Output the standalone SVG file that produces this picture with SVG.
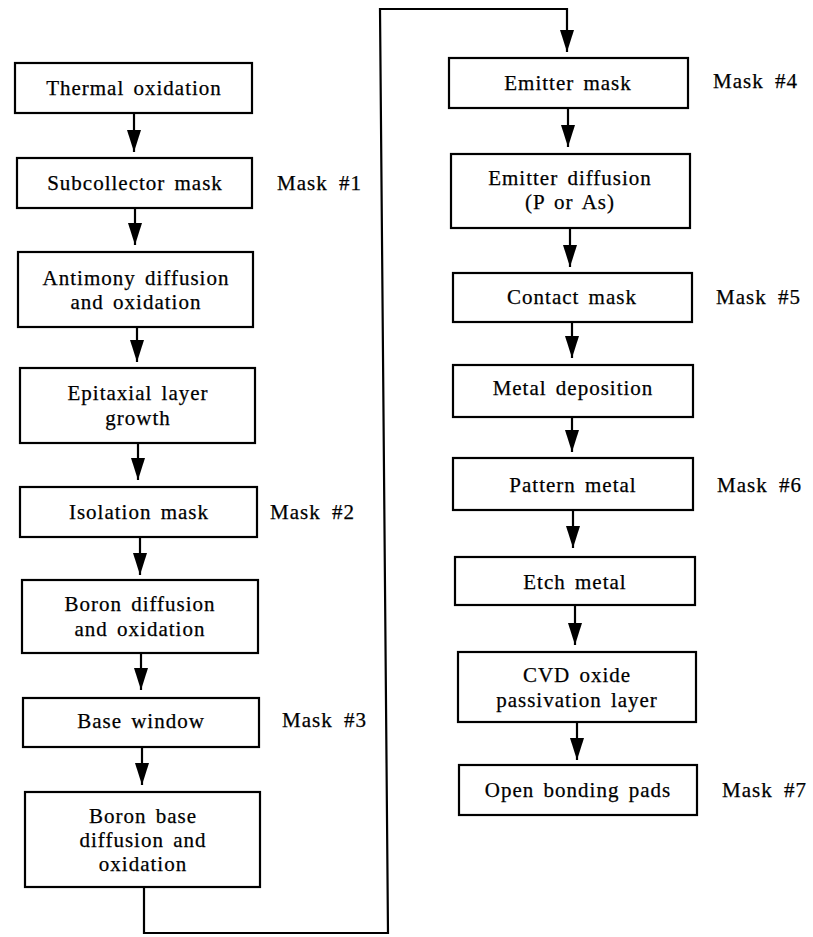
<svg xmlns="http://www.w3.org/2000/svg" width="813" height="937" viewBox="0 0 813 937">
<defs>
<style>
.box{fill:#fff;stroke:#000;stroke-width:2.2}
.t{font-family:"Liberation Serif","Times New Roman",serif;font-size:21px;letter-spacing:1px;word-spacing:3px;fill:#000;stroke:#000;stroke-width:0.25;text-anchor:middle}
.m{font-family:"Liberation Serif","Times New Roman",serif;font-size:21px;letter-spacing:1px;word-spacing:5px;fill:#000;stroke:#000;stroke-width:0.25}
.c{fill:none;stroke:#000;stroke-width:2.2;marker-end:url(#ah)}
</style>
<marker id="ah" viewBox="0 0 22 14" refX="22" refY="7" markerWidth="22" markerHeight="14" markerUnits="userSpaceOnUse" orient="auto">
<path d="M0,0 L22,7 L0,14 z" fill="#000"/>
</marker>
</defs>
<rect width="813" height="937" fill="#fff"/>

<g id="connectors">
<line class="c" x1="134" y1="113" x2="134" y2="152"/>
<line class="c" x1="135" y1="208" x2="135" y2="245"/>
<line class="c" x1="137" y1="327" x2="137" y2="362"/>
<line class="c" x1="138" y1="443" x2="138" y2="480"/>
<line class="c" x1="140" y1="537" x2="140" y2="575"/>
<line class="c" x1="141" y1="653" x2="141" y2="690"/>
<line class="c" x1="142" y1="747" x2="142" y2="785"/>
<path class="c" d="M144,887 L144,933 L388,933 L380,9 L567,9 L567,52"/>
<line class="c" x1="568" y1="108" x2="568" y2="147"/>
<line class="c" x1="570" y1="228" x2="570" y2="267"/>
<line class="c" x1="572" y1="322" x2="572" y2="358"/>
<line class="c" x1="572" y1="417" x2="572" y2="452"/>
<line class="c" x1="573" y1="510" x2="573" y2="548"/>
<line class="c" x1="575" y1="605" x2="575" y2="645"/>
<line class="c" x1="577" y1="722" x2="577" y2="760"/>
</g>

<g id="thermal-oxidation">
<rect class="box" x="15" y="63" width="237" height="50"/>
<text class="t" x="134" y="95">Thermal oxidation</text>
</g>
<g id="subcollector-mask">
<rect class="box" x="17" y="158" width="235" height="50"/>
<text class="t" x="135" y="190">Subcollector mask</text>
<text class="m" x="277" y="190">Mask #1</text>
</g>
<g id="antimony-diffusion">
<rect class="box" x="18" y="252" width="235" height="75"/>
<text class="t" x="136" y="285">Antimony diffusion</text>
<text class="t" x="136" y="309">and oxidation</text>
</g>
<g id="epitaxial-layer">
<rect class="box" x="20" y="368" width="235" height="75"/>
<text class="t" x="138" y="400">Epitaxial layer</text>
<text class="t" x="138" y="425">growth</text>
</g>
<g id="isolation-mask">
<rect class="box" x="20" y="487" width="237" height="50"/>
<text class="t" x="139" y="519">Isolation mask</text>
<text class="m" x="270" y="519">Mask #2</text>
</g>
<g id="boron-diffusion">
<rect class="box" x="22" y="580" width="236" height="73"/>
<text class="t" x="140" y="611">Boron diffusion</text>
<text class="t" x="140" y="636">and oxidation</text>
</g>
<g id="base-window">
<rect class="box" x="23" y="698" width="236" height="49"/>
<text class="t" x="141" y="728">Base window</text>
<text class="m" x="282" y="727">Mask #3</text>
</g>
<g id="boron-base">
<rect class="box" x="25" y="792" width="235" height="95"/>
<text class="t" x="143" y="823">Boron base</text>
<text class="t" x="143" y="847">diffusion and</text>
<text class="t" x="143" y="871">oxidation</text>
</g>

<g id="emitter-mask">
<rect class="box" x="449" y="58" width="239" height="50"/>
<text class="t" x="568" y="90">Emitter mask</text>
<text class="m" x="713" y="88">Mask #4</text>
</g>
<g id="emitter-diffusion">
<rect class="box" x="451" y="154" width="239" height="74"/>
<text class="t" x="570" y="185">Emitter diffusion</text>
<text class="t" x="570" y="209">(P or As)</text>
</g>
<g id="contact-mask">
<rect class="box" x="453" y="273" width="239" height="49"/>
<text class="t" x="572" y="304">Contact mask</text>
<text class="m" x="716" y="304">Mask #5</text>
</g>
<g id="metal-deposition">
<rect class="box" x="453" y="365" width="240" height="52"/>
<text class="t" x="573" y="395">Metal deposition</text>
</g>
<g id="pattern-metal">
<rect class="box" x="453" y="458" width="240" height="52"/>
<text class="t" x="573" y="492">Pattern metal</text>
<text class="m" x="717" y="492">Mask #6</text>
</g>
<g id="etch-metal">
<rect class="box" x="455" y="557" width="240" height="48"/>
<text class="t" x="575" y="589">Etch metal</text>
</g>
<g id="cvd-oxide">
<rect class="box" x="458" y="652" width="238" height="70"/>
<text class="t" x="577" y="682">CVD oxide</text>
<text class="t" x="577" y="707">passivation layer</text>
</g>
<g id="open-bonding-pads">
<rect class="box" x="459" y="765" width="238" height="50"/>
<text class="t" x="578" y="797">Open bonding pads</text>
<text class="m" x="722" y="797">Mask #7</text>
</g>
</svg>
